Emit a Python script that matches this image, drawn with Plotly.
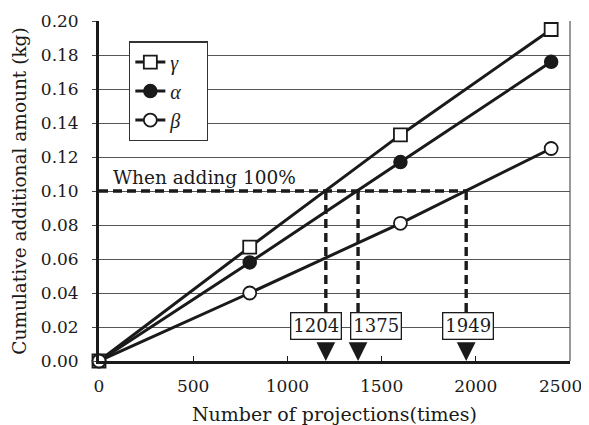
import plotly.graph_objects as go

projections = [0, 800, 1600, 2400]
gamma_vals = [0.0, 0.067, 0.133, 0.195]
alpha_vals = [0.0, 0.058, 0.117, 0.176]
beta_vals = [0.0, 0.040, 0.081, 0.125]
series_names = ["γ", "α", "β"]
threshold = 0.10
cross_points = [1204, 1375, 1949]
cross_labels = ["1204", "1375", "1949"]
label_x = [1152, 1470, 1959]
label_y = 0.0205
xticks = [0, 500, 1000, 1500, 2000, 2500]
yticks = [0.00, 0.02, 0.04, 0.06, 0.08, 0.10, 0.12, 0.14, 0.16, 0.18, 0.20]

FONT = "DejaVu Serif"
LFONT = "Liberation Serif"
INK = "#1a1a1a"

fig = go.Figure()

styles = [
    dict(symbol="square", color="white", size=13, line=dict(width=1.8, color=INK)),
    dict(symbol="circle", color=INK, size=13, line=dict(width=1.5, color=INK)),
    dict(symbol="circle", color="white", size=13, line=dict(width=1.8, color=INK)),
]
for name, vals, mk in zip(series_names, [gamma_vals, alpha_vals, beta_vals], styles):
    fig.add_trace(go.Scatter(
        x=projections, y=vals, mode="lines+markers", name=name + "\u2003",
        line=dict(color=INK, width=3), marker=mk, legendgroup=name, cliponaxis=False,
    ))

# dashed horizontal line at threshold
fig.add_trace(go.Scatter(
    x=[0, max(cross_points)], y=[threshold, threshold], mode="lines",
    line=dict(color=INK, width=3.4, dash="9px,5px"), showlegend=False, hoverinfo="skip",
))
for cp in cross_points:
    fig.add_trace(go.Scatter(
        x=[cp, cp], y=[threshold, 0.01], mode="lines",
        line=dict(color=INK, width=3.4, dash="9px,5px"), showlegend=False, hoverinfo="skip",
    ))
    fig.add_annotation(x=cp, y=0.0, ax=cp, ay=0.011, xref="x", yref="y", axref="x", ayref="y",
                       showarrow=True, arrowhead=2, arrowsize=1.1, arrowwidth=3.4,
                       arrowcolor=INK, text="")

for lx, lab in zip(label_x, cross_labels):
    fig.add_annotation(x=lx, y=label_y, xref="x", yref="y", text=lab, showarrow=False,
                       font=dict(family=FONT, size=18, color=INK),
                       bgcolor="white", bordercolor=INK, borderwidth=1.3, borderpad=2)

fig.add_annotation(x=0, y=threshold, xref="x", yref="y", text="When adding 100%",
                   showarrow=False, xanchor="left", yanchor="bottom", xshift=12, yshift=1,
                   font=dict(family=FONT, size=18.5, color=INK))

# last x tick label kept inside the page edge (as in the reference)
tick_text = [str(v) for v in xticks]
fig.add_annotation(x=1, y=0, xref="paper", yref="paper", text=tick_text[-1],
                   showarrow=False, xanchor="right", yanchor="middle", xshift=14, yshift=-25,
                   font=dict(family=FONT, size=17, color=INK))
tick_text[-1] = ""

# right border
fig.add_shape(type="line", xref="paper", yref="paper", x0=1, x1=1, y0=0, y1=1,
              line=dict(color="#555", width=1.2))

fig.update_layout(
    width=581, height=417,
    margin=dict(l=91, r=19, t=13, b=64, autoexpand=False),
    paper_bgcolor="white", plot_bgcolor="white",
    font=dict(family=FONT, size=17, color=INK),
    legend=dict(
        x=0.064, y=0.94, xanchor="left", yanchor="top",
        bgcolor="white", bordercolor="#333", borderwidth=1.2,
        font=dict(family=LFONT, size=20, color=INK, style="italic"),
        tracegroupgap=0, itemwidth=30,
    ),
    showlegend=True,
)
fig.update_xaxes(
    range=[0, 2500], tickvals=xticks, ticktext=tick_text,
    showline=True, linecolor=INK, linewidth=2.8, ticks="inside", ticklen=5,
    tickcolor=INK, tickwidth=1.2, showgrid=False, zeroline=False, automargin=False,
    ticklabelstandoff=8,
    tickfont=dict(family=FONT, size=17, color=INK),
    title=dict(text="Number of projections(times)", font=dict(family=FONT, size=19, color=INK), standoff=14),
)
fig.update_yaxes(
    range=[0, 0.2], tickvals=yticks, ticktext=[f"{v:.2f}" for v in yticks],
    showline=True, linecolor=INK, linewidth=2.8, ticks="outside", ticklen=4,
    tickcolor="#444", tickwidth=1, showgrid=True, gridcolor="#555", gridwidth=1,
    zeroline=False, automargin=False, ticklabelstandoff=10, ticklabeloverflow="allow",
    tickfont=dict(family=FONT, size=17, color=INK),
    title=dict(text="Cumulative additional amount (kg)", font=dict(family=FONT, size=18.5, color=INK), standoff=10),
)

fig.write_html("out.html")
